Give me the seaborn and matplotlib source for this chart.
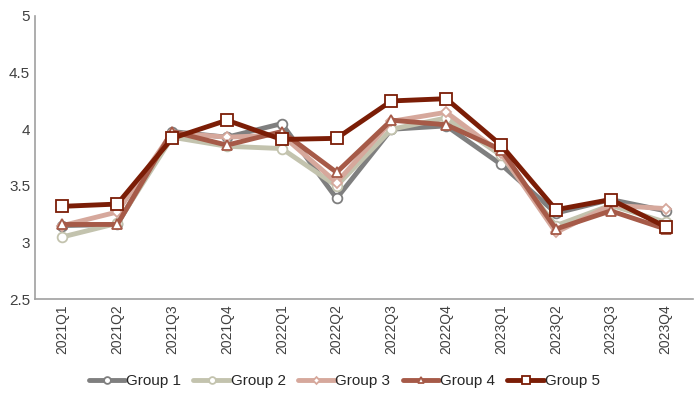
"""Courbes trimestrielles par groupe."""

import matplotlib
matplotlib.use("Agg")
import matplotlib.pyplot as plt
import pandas as pd
import seaborn as sns

QUARTERS = ["2021Q1", "2021Q2", "2021Q3", "2021Q4", "2022Q1", "2022Q2",
            "2022Q3", "2022Q4", "2023Q1", "2023Q2", "2023Q3", "2023Q4"]
GROUP_1 = [3.15, 3.16, 3.98, 3.93, 4.05, 3.39, 4.00, 4.03, 3.69, 3.26, 3.38, 3.28]
GROUP_2 = [3.05, 3.17, 3.93, 3.85, 3.83, 3.50, 4.00, 4.10, 3.77, 3.15, 3.33, 3.18]
GROUP_3 = [3.15, 3.27, 3.97, 3.93, 3.95, 3.53, 4.07, 4.15, 3.79, 3.09, 3.33, 3.30]
GROUP_4 = [3.16, 3.16, 3.98, 3.86, 3.98, 3.62, 4.08, 4.04, 3.82, 3.12, 3.28, 3.12]
GROUP_5 = [3.32, 3.34, 3.92, 4.08, 3.91, 3.92, 4.25, 4.27, 3.86, 3.29, 3.38, 3.14]

SERIES = {"Group 1": GROUP_1, "Group 2": GROUP_2, "Group 3": GROUP_3,
          "Group 4": GROUP_4, "Group 5": GROUP_5}
COLORS = {"Group 1": "#7f7f7f", "Group 2": "#c3c3ae", "Group 3": "#d6a89c",
          "Group 4": "#a65a48", "Group 5": "#7b1d06"}
MARKERS = {"Group 1": "o", "Group 2": "o", "Group 3": "D", "Group 4": "^", "Group 5": "s"}
SIZES = {"Group 1": 7, "Group 2": 7, "Group 3": 5, "Group 4": 7, "Group 5": 8}

sns.set_theme(style="white")
plt.rcParams["font.family"] = ["Liberation Sans", "DejaVu Sans"]

data = pd.concat(
    [pd.DataFrame({"Quarter": QUARTERS, "Value": vals, "Group": name}) for name, vals in SERIES.items()],
    ignore_index=True,
)

fig, ax = plt.subplots(figsize=(7, 3.99), dpi=100)
fig.subplots_adjust(left=0.05, right=0.99, top=0.96, bottom=0.25)

for name in SERIES:
    subset = data[data["Group"] == name]
    sns.lineplot(data=subset, x="Quarter", y="Value", ax=ax, sort=False,
                 color=COLORS[name], linewidth=3.5, marker=MARKERS[name],
                 markersize=SIZES[name], markerfacecolor="white",
                 markeredgecolor=COLORS[name], markeredgewidth=1.3, label=name)

ax.set_ylim(2.5, 5)
ax.set_yticks([2.5, 3, 3.5, 4, 4.5, 5])
ax.set_yticklabels(["2.5", "3", "3.5", "4", "4.5", "5"])
ax.set_xlim(-0.5, len(QUARTERS) - 0.5)
ax.set(xlabel="", ylabel="")
ax.tick_params(axis="x", rotation=90, labelsize=10, colors="#404040", length=0)
ax.tick_params(axis="y", labelsize=11, colors="#404040", length=0)
for side in ("top", "right"):
    ax.spines[side].set_visible(False)
for side in ("left", "bottom"):
    ax.spines[side].set_color("#a0a0a0")
    ax.spines[side].set_linewidth(1.2)

ax.legend(loc="center", bbox_to_anchor=(0.47, -0.29), ncol=5, frameon=False,
          fontsize=11, handlelength=2.4, handletextpad=0.05, columnspacing=0.8,
          markerscale=0.7)

fig.savefig("out.png", dpi=100)
